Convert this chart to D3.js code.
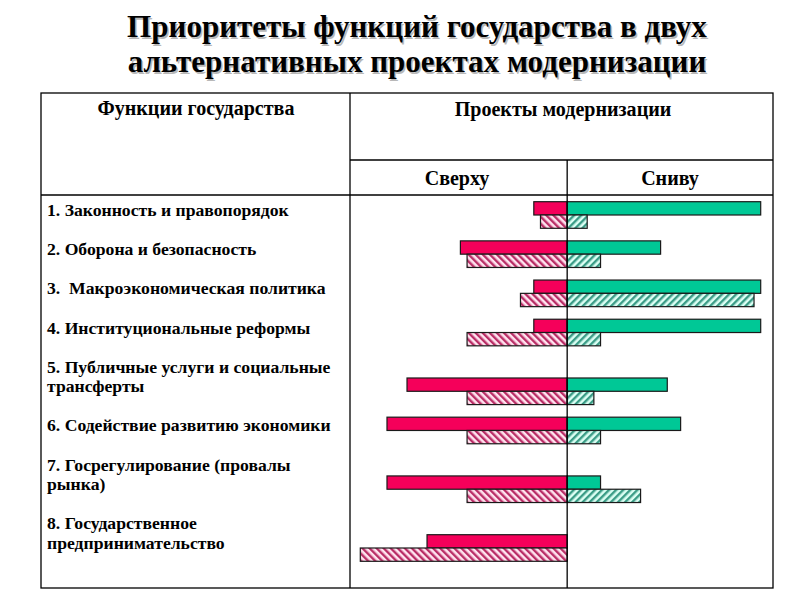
<!DOCTYPE html>
<html>
<head>
<meta charset="utf-8">
<script src="https://cdn.jsdelivr.net/npm/d3@7"></script>
<style>
    body { margin: 0; background: #fff; }
    text { font-weight: bold; fill: #000; }
</style>
</head>
<body>
<div id="main"></div>
<script>
// Заголовок
var titleLines = ["Приоритеты функций государства в двух", "альтернативных проектах модернизации"];

// Шапка таблицы
var headFunctions = "Функции государства";
var headProjects = "Проекты модернизации";
var projectNames = ["Сверху", "Сниву"];

// Функции государства (строки таблицы)
var functionLabels = [
    ["1. Законность и правопорядок"],
    ["2. Оборона и безопасность"],
    ["3.  Макроэкономическая политика"],
    ["4. Институциональные реформы"],
    ["5. Публичные услуги и социальные", "трансферты"],
    ["6. Содействие развитию экономики"],
    ["7. Госрегулирование (провалы", "рынка)"],
    ["8. Государственное", "предпринимательство"]
];

// Проект "Сверху" (влево от оси)
var topSolid = [5, 16, 5, 5, 24, 27, 27, 21];
var topHatched = [4, 15, 7, 15, 15, 15, 15, 31];
// Проект "Снизу" (вправо от оси)
var bottomSolid = [29, 14, 29, 29, 15, 17, 5, 0];
var bottomHatched = [3, 5, 28, 5, 4, 5, 11, 0];

var red = "#f5005a",
    green = "#00c896";
var serif = '"Liberation Serif", "Times New Roman", "DejaVu Serif", serif';

var W = 800, H = 600;
var table = { left: 41, right: 773, top: 93, bottom: 588, colSplit: 350, headMid: 160, headBottom: 195 };

var svg = d3.select("#main")
    .append("svg")
    .attr("width", W)
    .attr("height", H)
    .attr("font-family", serif);

svg.append("rect").attr("width", W).attr("height", H).attr("fill", "#fff");

// scale font size of a text so it gets the wanted width
function fitSize(txt, base, width) {
    var t = svg.append("text").attr("font-size", base).text(txt);
    var w = t.node().getComputedTextLength();
    t.remove();
    return base * width / w;
}

// hatch patterns
var defs = svg.append("defs");
function hatch(id, bg, stroke, angle) {
    var p = defs.append("pattern")
        .attr("id", id)
        .attr("patternUnits", "userSpaceOnUse")
        .attr("width", 5)
        .attr("height", 5)
        .attr("patternTransform", "rotate(" + angle + ")");
    p.append("rect").attr("width", 5).attr("height", 5).attr("fill", bg);
    p.append("rect").attr("width", 2.4).attr("height", 5).attr("fill", stroke);
}
hatch("hatchRed", "#ffe4ef", "#b92d66", -45);
hatch("hatchGreen", "#dcfff4", "#3a9c86", 45);

// Title with a soft shadow
var titleSize = fitSize(titleLines[0], 28, 580);
var title = svg.append("g");
titleLines.forEach(function (t, i) {
    title.append("text")
        .attr("x", 418.5).attr("y", 38.5 + i * 35)
        .attr("text-anchor", "middle")
        .attr("font-size", titleSize)
        .style("fill", "#b8b8b8")
        .text(t);
    title.append("text")
        .attr("x", 417).attr("y", 37 + i * 35)
        .attr("text-anchor", "middle")
        .attr("font-size", titleSize)
        .text(t);
});

// scales
var xMax = d3.max(bottomSolid.concat(bottomHatched)),
    xMin = d3.max(topSolid.concat(topHatched));
var xScale = d3.scaleLinear()
    .domain([-xMin, xMax])
    .range([360.3, 760.7]);

// label lines: one blank line between functions
var lineIndex = [], n = 0;
functionLabels.forEach(function (lines) {
    lineIndex.push(n);
    n += lines.length + 1;
});
var totalLines = n - 2;
var yLine = d3.scaleLinear().domain([0, totalLines]).range([216, 549]);
var barH = 13.3;

// table grid
var grid = svg.append("g")
    .attr("stroke", "#000")
    .attr("stroke-width", 1.3)
    .attr("fill", "none");
grid.append("rect")
    .attr("x", table.left).attr("y", table.top)
    .attr("width", table.right - table.left)
    .attr("height", table.bottom - table.top);
grid.append("line")
    .attr("x1", table.colSplit).attr("x2", table.colSplit)
    .attr("y1", table.top).attr("y2", table.bottom);
grid.append("line")
    .attr("x1", table.colSplit).attr("x2", table.right)
    .attr("y1", table.headMid).attr("y2", table.headMid);
grid.append("line")
    .attr("x1", table.left).attr("x2", table.right)
    .attr("y1", table.headBottom).attr("y2", table.headBottom);

// header texts
var headSize = fitSize(headFunctions, 16, 197);
svg.append("text")
    .attr("x", 196).attr("y", 115)
    .attr("text-anchor", "middle")
    .attr("font-size", headSize)
    .text(headFunctions);
svg.append("text")
    .attr("x", 563).attr("y", 116)
    .attr("text-anchor", "middle")
    .attr("font-size", headSize)
    .text(headProjects);
svg.append("text")
    .attr("x", 457).attr("y", 185)
    .attr("text-anchor", "middle")
    .attr("font-size", headSize)
    .text(projectNames[0]);
svg.append("text")
    .attr("x", 670).attr("y", 185)
    .attr("text-anchor", "middle")
    .attr("font-size", headSize)
    .text(projectNames[1]);

// row labels
var bodySize = fitSize(functionLabels[0][0], 16, 242);
var labels = svg.append("g");
functionLabels.forEach(function (lines, i) {
    lines.forEach(function (t, j) {
        labels.append("text")
            .attr("x", 47)
            .attr("y", yLine(lineIndex[i] + j))
            .attr("font-size", bodySize)
            .style("white-space", "pre")
            .text(t);
    });
});

// bars
var rows = functionLabels.map(function (d, i) {
    return {
        yc: yLine(lineIndex[i] + d.length - 1) - 1,
        bars: [
            { v: -topSolid[i], fill: red, dy: -1 },
            { v: -topHatched[i], fill: "url(#hatchRed)", dy: 0 },
            { v: bottomSolid[i], fill: green, dy: -1 },
            { v: bottomHatched[i], fill: "url(#hatchGreen)", dy: 0 }
        ]
    };
});

var rowGrp = svg.append("g")
    .selectAll("g")
    .data(rows)
    .enter()
    .append("g")
    .attr("transform", function (d) { return "translate(0," + d.yc + ")"; });

rowGrp.selectAll("rect")
    .data(function (d) { return d.bars.filter(function (b) { return b.v !== 0; }); })
    .enter()
    .append("rect")
    .attr("x", function (d) { return Math.min(xScale(0), xScale(d.v)); })
    .attr("width", function (d) { return Math.abs(xScale(d.v) - xScale(0)); })
    .attr("y", function (d) { return d.dy < 0 ? -barH : 0; })
    .attr("height", barH)
    .attr("fill", function (d) { return d.fill; })
    .attr("stroke", "#1a1a1a")
    .attr("stroke-width", 1.2);

// zero axis
svg.append("line")
    .attr("x1", xScale(0)).attr("x2", xScale(0))
    .attr("y1", table.headMid).attr("y2", table.bottom)
    .attr("stroke", "#000")
    .attr("stroke-width", 1.3);
</script>
</body>
</html>
